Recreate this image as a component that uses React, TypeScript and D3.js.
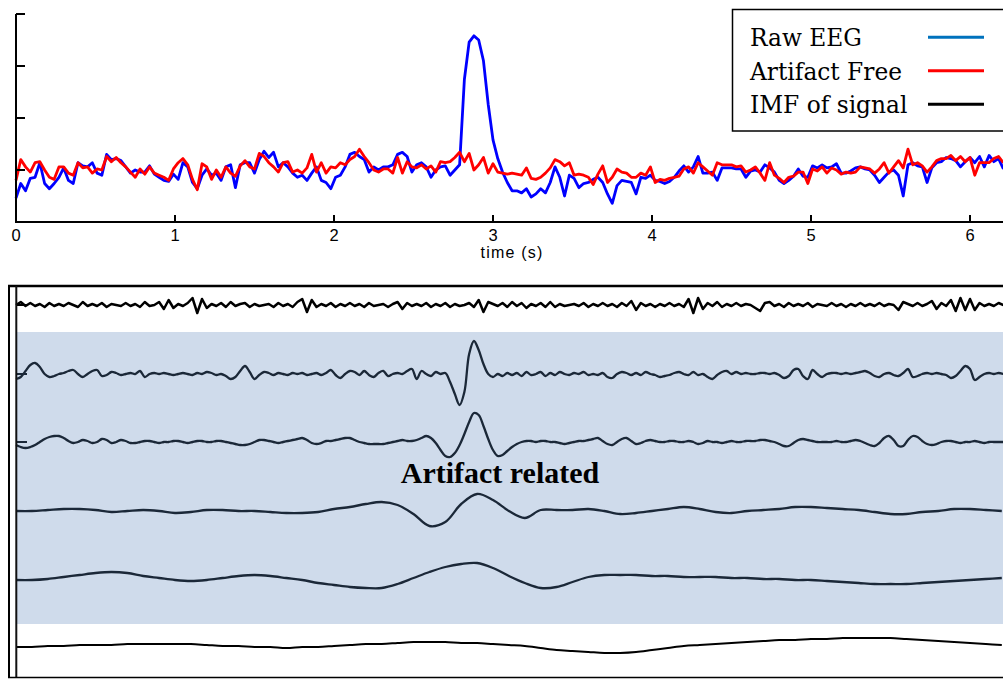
import React from 'react';
import * as d3 from 'd3';

// ---------- data ----------
const TIME_TICKS = [0, 1, 2, 3, 4, 5, 6];
const Y_TICKS = [-50, 0, 50, 100, 150];
const TIME_MAX = 6.2;

// samples every 0.03 s
const EEG_STEP = 0.03;
const RAW_EEG = [
  -27, -13, -20, -8, -7, 7, -13, -18, -13, -7,
  2, -10, -13, 7, 4, 3, 7, -3, -5, 15,
  10, 11, 9, 3, -3, 0, -2, -2, 4, -4,
  -7, -10, -11, -4, -9, 7, 3, -12, -18, -5,
  1, -5, -3, -10, 3, 5, -17, 5, 7, 7,
  -3, 10, 18, 12, 17, 3, 7, 3, -3, -7,
  -5, -10, -3, 3, -10, -12, -18, -7, -5, 3,
  15, 17, 13, 10, -2, 3, 0, 3, 3, 5,
  15, 17, 13, -2, 5, 7, 3, -7, 0, 3,
  4, -5, 0, 5, 87, 123, 129, 125, 105, 63,
  29, 11, -2, -12, -20, -20, -22, -18, -26, -23,
  -18, -22, -12, 3, -7, -25, -5, -8, -17, -13,
  -12, -9, -7, -12, -23, -32, -15, -10, -11, -12,
  -23, -7, -8, -5, -10, -11, -13, -11, -7, -1,
  4, -2, 3, 13, -3, -3, -2, -10, 2, 2,
  2, 1, 1, -7, -1, 0, -2, 5, 2, -2,
  -10, -13, -10, -6, 1, -6, -7, 4, 2, 5,
  2, 3, 6, -3, -3, -1, 2, 3, 1, 0,
  -5, -12, -7, -2, 0, -5, -25, 5, 7, 4,
  3, -12, 2, 7, 8, 12, 11, 9, 3, 8,
  12, 7, 13, 3, 14, 8, 11, 1,
];
const ARTIFACT_FREE = [
  -10, 10, 3, -2, 7, 8, 0, -7, -9, 3,
  3, -3, -5, 7, 2, 3, -3, 1, 0, 13,
  8, 12, 7, 3, -2, -7, 1, -4, 3, -3,
  -5, -7, -10, 1, 7, 11, 5, -9, -19, 6,
  3, -9, 0, -7, 3, -3, -6, 4, 9, 3,
  1, 16, 13, 7, 3, -2, 7, 8, -2, 0,
  -3, 2, 15, -2, 7, -3, 3, 2, 7, 5,
  10, 13, 20, 13, 7, 0, -2, 1, 1, -3,
  12, -3, 8, 3, 2, 5, 1, 4, -2, 8,
  7, 8, 12, 17, 8, 16, 0, 5, 12, -3,
  6, -2, -3, -4, -3, -4, -5, 2, -8, -9,
  -7, -3, 2, 10, 8, 4, 7, -5, -4, -5,
  -7, -14, -4, 4, -12, -7, 1, -2, -3, -7,
  -7, -3, -5, 3, -12, -9, -10, -8, -7, -6,
  1, 3, -3, 7, 3, -1, -5, 7, 5, 5,
  5, 3, 4, -2, 0, 3, -3, -10, 7, -5,
  -8, -12, -7, -6, -2, -2, -13, 1, -1, 3,
  -3, 2, 0, -4, -2, -3, -2, 3, 2, 1,
  -3, 1, 7, -3, 3, 9, 2, 20, 5, 7,
  4, -2, 3, 9, 11, 11, 14, 9, 13, 8,
  12, -5, 7, 7, 7, 11, 13, 7,
];

// IMFs (fine rows every 0.03 s, coarse rows every 0.1 s)
const IMF_FINE_STEP = 0.03;
const IMF_COARSE_STEP = 0.1;
const IMF_1 = [
  0, 3, -1, 2, -1, 1, -2, 2, -1, 1,
  -1, 2, 0, -2, 3, -1, 1, -1, 2, -2,
  1, 0, -1, 2, -1, 1, -2, 3, -1, 0,
  3, -4, 5, -3, 1, -1, 2, 7, -8, 6,
  -3, 1, -1, 2, -2, 3, -1, 1, 2, -2,
  1, -1, 0, 1, -2, 2, -1, 1, -2, 3,
  6, -7, 5, -2, 1, -1, 2, -2, 1, -1,
  2, -1, 1, -2, 2, -1, 0, 1, -2, 1,
  3, -4, 2, -1, 1, -1, 2, -2, 1, -1,
  2, -2, 1, -1, 0, 2, -2, 5, -7, 3,
  1, -1, 2, -2, 3, -1, 2, -3, 1, -1,
  2, -2, 3, -2, 1, -1, 0, 1, -1, 2,
  -2, 1, -1, 2, -1, 1, -2, 2, -1, 4,
  -5, 2, -1, 1, -2, 1, -1, 2, -1, 1,
  -2, 6, -8, 7, -4, 2, -1, 3, -2, 1,
  -1, 2, -1, 1, 0, -3, -6, 2, 3, -1,
  1, -2, 2, -1, 1, -1, 2, -2, 1, 0,
  -1, 2, -1, 1, -2, 1, -1, 2, -1, 1,
  -1, 2, -1, 1, 0, -5, 3, 1, -1, 2,
  -1, 1, 4, -4, 2, -1, 5, -6, 7, -5,
  6, -5, 2, -1, 1, -1, 2, 0,
];
const IMF_2 = [
  -5, -3, 3, 9, 11, 7, 0, -3, -2, 0,
  1, 3, 4, 0, -3, 0, 3, 4, -2, -1,
  2, 1, -1, 0, 1, 0, 3, -3, 0, 1,
  0, 1, 0, -1, 0, 1, 0, -1, 1, 0,
  2, 1, -1, 0, -2, -5, -3, 3, 8, 2,
  -5, -1, 2, 1, -1, 1, 0, -1, 1, 0,
  1, -1, 0, 1, -1, 1, 4, -1, -4, 0,
  3, 2, -1, 3, -1, -3, 1, 3, -2, 0,
  1, 0, 3, 5, -5, 3, 0, -2, 2, 0,
  1, -8, -20, -31, -18, 20, 33, 24, 10, 0,
  -3, 0, -2, 1, -1, 1, -2, 2, -1, 0,
  2, -2, 1, -1, 2, 0, -1, 1, 0, 2,
  -1, 0, -1, 1, -3, -4, 0, 2, 1, -1,
  1, -1, 2, 0, -1, -3, -2, -1, 1, 2,
  0, -1, 2, -1, 0, -3, -5, -1, 2, 3,
  0, 2, 0, 1, 0, 0, 1, 1, 0, 1,
  -1, -4, -2, 4, 5, -2, -5, 4, 0, -3,
  0, 1, 1, 0, 1, 0, 1, 2, 3, 1,
  -2, -3, 0, 1, -1, -2, 1, 5, -3, -2,
  0, 1, 0, 1, 0, -1, -4, -2, 3, 8,
  5, -6, -3, 0, 1, 0, 1, 0,
];
const IMF_3 = [
  -3, -5, -6, -5, -3, 0, 3, 5, 6, 6,
  4, 1, -1, 0, 2, 1, -1, 0, 3, 2,
  -1, 0, 2, 1, -1, -1, 0, 1, 1, 0,
  -1, 0, 0, 1, 1, 0, -1, 0, 1, 1,
  0, 0, 1, 1, 0, -1, -2, -3, -3, -2,
  0, 2, 2, 1, 0, -1, 0, 1, 2, 3,
  4, 2, -1, -2, -1, 1, 1, 2, 3, 4,
  4, 2, 0, -1, -2, -2, -2, -2, -1, 0,
  1, 2, 1, 1, 2, 4, 6, 4, -1, -8,
  -14, -15, -11, -3, 8, 20, 29, 27, 16, 3,
  -8, -14, -13, -9, -5, -2, 0, 1, 1, 0,
  1, 1, 0, 0, -1, -2, -1, 0, 1, 1,
  2, 3, 4, 1, -2, -3, 0, 3, 4, 1,
  -2, -1, 1, 2, 1, 0, 0, 1, 1, 0,
  0, 1, 0, -2, -1, 1, 0, 0, -1, 0,
  1, 0, 0, 1, 1, 1, 2, 2, 1, 0,
  -2, -4, -4, -1, 2, 3, 2, 1, 0, 0,
  0, 0, 1, 0, 0, 1, 2, 1, -1, -3,
  -4, -1, 4, 6, 2, -4, -4, 2, 6, 5,
  1, -2, -3, -2, 0, 1, 1, 0, -1, 0,
  0, 1, 0, -1, 0, 0, 0, 0,
];
const IMF_4 = [
  0, 0, 1, 2, 2, 1, -1, 0, 1, 0,
  -2, -1, 1, 1, 0, 0, -1, -2, -2, -1,
  2, 4, 7, 9, 6, -3, -15, -11, 7, 17,
  11, 0, -7, 1, 1, 1, 2, 0, -3, -2,
  0, 2, 4, 2, -1, -2, 0, 1, 2, 4,
  4, 3, 2, 1, -1, -3, -3, -1, 0, 2,
  2, 1, 0,
];
const IMF_5 = [
  0, 0, 1, 3, 5, 7, 8, 7, 4, 2,
  0, -1, 0, 2, 4, 5, 4, 2, 0, -3,
  -5, -7, -8, -8, -4, 2, 8, 13, 16, 17,
  12, 4, -3, -8, -7, -2, 3, 5, 5, 5,
  4, 4, 3, 3, 3, 2, 2, 1, 1, 0,
  0, -1, -2, -3, -4, -4, -4, -3, -2, -1,
  0, 1, 2,
];
const RESIDUE = [
  0, 0, 1, 1, 2, 2, 2, 3, 3, 3,
  3, 3, 2, 1, 1, 0, 0, -1, 0, 0,
  1, 2, 3, 3, 4, 5, 5, 5, 4, 4,
  3, 2, 1, -1, -3, -4, -5, -6, -6, -5,
  -3, -1, 1, 2, 3, 4, 5, 6, 7, 7,
  8, 8, 9, 9, 9, 9, 8, 7, 6, 5,
  4, 3, 2,
];

const LEGEND_LABELS = ['Raw EEG', 'Artifact Free', 'IMF of signal'];
const LEGEND_COLORS = ['#0072BD', '#ff0000', '#000000'];
const ANNOTATION = 'Artifact related';

// ---------- component ----------
export default function App() {
  const W = 1003;
  const H = 679;
  const x0 = 16;
  const pxPerSec = 159;
  const x = d3.scaleLinear().domain([0, TIME_MAX]).range([x0, x0 + TIME_MAX * pxPerSec]);
  const y = d3.scaleLinear().domain([-50, 150]).range([222, 14]);

  const eegLine = (step: number) =>
    d3
      .line<number>()
      .x((_, i) => x(i * step))
      .y((d) => y(d))
      .curve(d3.curveLinear);

  const rowDefs = [
    { data: IMF_1, step: IMF_FINE_STEP, c: 305, color: '#000000', curve: d3.curveLinear, w: 2.5 },
    { data: IMF_2, step: IMF_FINE_STEP, c: 374, color: '#1b2838', curve: d3.curveCatmullRom, w: 2.3 },
    { data: IMF_3, step: IMF_FINE_STEP, c: 442, color: '#1b2838', curve: d3.curveCatmullRom, w: 2.3 },
    { data: IMF_4, step: IMF_COARSE_STEP, c: 511, color: '#1b2838', curve: d3.curveCatmullRom, w: 2.3 },
    { data: IMF_5, step: IMF_COARSE_STEP, c: 580, color: '#1b2838', curve: d3.curveCatmullRom, w: 2.3 },
    { data: RESIDUE, step: IMF_COARSE_STEP, c: 647, color: '#000000', curve: d3.curveCatmullRom, w: 2 },
  ];

  const sans = "'Liberation Sans', Arial, Helvetica, sans-serif";

  return (
    <svg
      width={W}
      height={H}
      style={{ position: 'absolute', left: 0, top: 0, display: 'block', background: '#fff' }}
    >
      <rect x={0} y={0} width={W} height={H} fill="#fff" />
      {/* ===== top panel ===== */}
      <path d={eegLine(EEG_STEP)(RAW_EEG) || ''} fill="none" stroke="#0000ff" strokeWidth={2.8} strokeLinejoin="round" />
      <path d={eegLine(EEG_STEP)(ARTIFACT_FREE) || ''} fill="none" stroke="#ff0000" strokeWidth={2.8} strokeLinejoin="round" />

      {/* axes */}
      <line x1={x0} x2={x0} y1={y(150)} y2={y(-50)} stroke="#000" strokeWidth={2} />
      <line x1={x0 - 1} x2={W} y1={y(-50)} y2={y(-50)} stroke="#000" strokeWidth={2} />
      {Y_TICKS.map((t) => (
        <line key={'yt' + t} x1={x0} x2={x0 + 9} y1={y(t)} y2={y(t)} stroke="#000" strokeWidth={2} />
      ))}
      {TIME_TICKS.map((t) => (
        <g key={'xt' + t}>
          <line x1={x(t)} x2={x(t)} y1={y(-50)} y2={y(-50) - 7} stroke="#000" strokeWidth={2} />
          <text x={x(t)} y={240.5} textAnchor="middle" fontFamily={sans} fontSize={16.5} fill="#000">
            {t}
          </text>
        </g>
      ))}
      <text x={512} y={258} textAnchor="middle" fontFamily={sans} fontSize={16} letterSpacing={1.2} fill="#000">
        time (s)
      </text>

      {/* legend */}
      <rect x={732.5} y={9.5} width={300} height={121.5} fill="#fff" stroke="#000" strokeWidth={1.5} />
      {LEGEND_LABELS.map((lab, i) => (
        <g key={lab}>
          <text x={750} y={46 + i * 33.5} fontFamily="'DejaVu Serif', serif" fontSize={23.3} fill="#000">
            {lab}
          </text>
          <line
            x1={928}
            x2={984}
            y1={37.3 + i * 33.5}
            y2={37.3 + i * 33.5}
            stroke={LEGEND_COLORS[i]}
            strokeWidth={3}
          />
        </g>
      ))}

      {/* ===== bottom panel ===== */}
      <rect x={17} y={332} width={W - 17} height={292} fill="#cfdbeb" />
      {rowDefs.map((r, k) => {
        const ys = d3.scaleLinear().domain([-40, 40]).range([r.c + 40, r.c - 40]);
        const gen = d3
          .line<number>()
          .x((_, i) => x(i * r.step))
          .y((d) => ys(d))
          .curve(r.curve);
        return (
          <g key={'row' + k}>
            <line x1={17} x2={27} y1={ys(0)} y2={ys(0)} stroke={r.color} strokeWidth={2} />
            <path d={gen(r.data) || ''} fill="none" stroke={r.color} strokeWidth={r.w} strokeLinejoin="round" />
          </g>
        );
      })}
      <text
        x={500}
        y={483}
        textAnchor="middle"
        fontFamily="'Liberation Serif', 'Times New Roman', serif"
        fontWeight="bold"
        fontSize={30}
        fill="#000"
      >
        {ANNOTATION}
      </text>
      {/* frame */}
      <line x1={8} x2={W} y1={286} y2={286} stroke="#000" strokeWidth={2.5} />
      <line x1={9} x2={9} y1={285} y2={678} stroke="#000" strokeWidth={2} />
      <line x1={16.3} x2={16.3} y1={286} y2={678} stroke="#111" strokeWidth={2} />
      <line x1={8} x2={W} y1={677.5} y2={677.5} stroke="#000" strokeWidth={1.5} />
    </svg>
  );
}
